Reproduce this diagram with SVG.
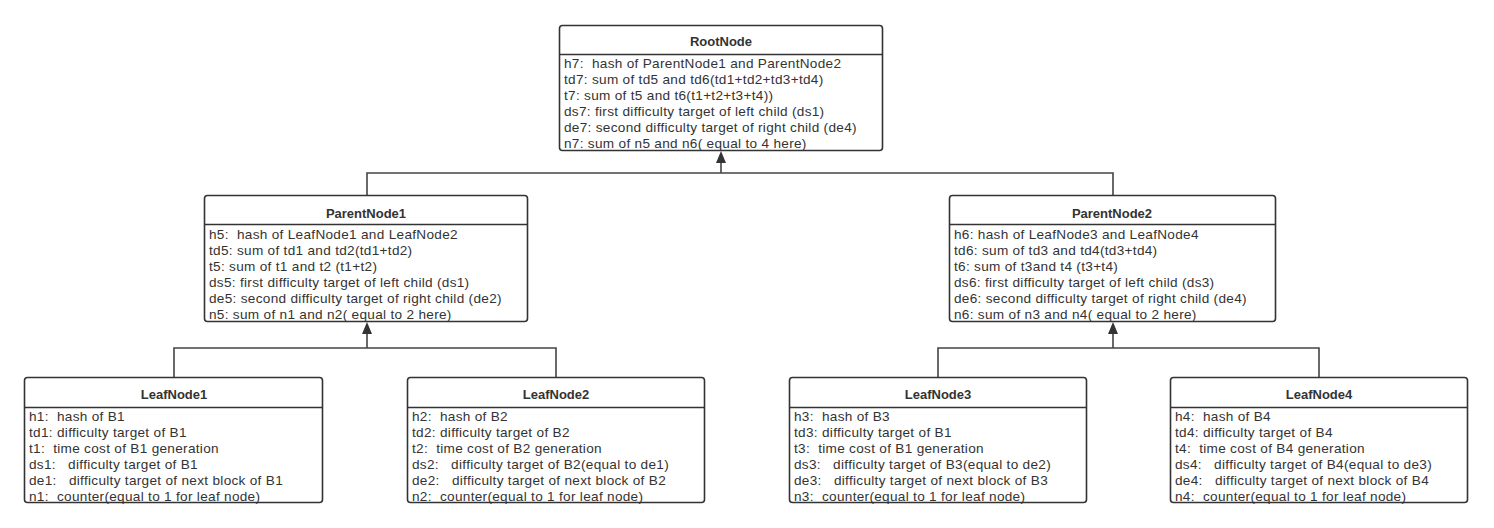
<svg xmlns="http://www.w3.org/2000/svg" width="1494" height="528" viewBox="0 0 1494 528" xml:space="preserve">
<style>
.box{fill:#fff;stroke:#333;stroke-width:1.6}
.div{stroke:#333;stroke-width:1.3}
.t{font-family:"Liberation Sans",Arial,sans-serif;font-size:13.6px;letter-spacing:0.3px;fill:#333;white-space:pre}
.h{font-family:"Liberation Sans",Arial,sans-serif;font-size:13px;font-weight:bold;fill:#333;text-anchor:middle}
.c{fill:none;stroke:#444;stroke-width:1.6}
</style>
<g id="connectors">
<path class="c" d="M367,195 V173 H1113 V195"/>
<path class="c" d="M721,173 V162"/>
<polygon points="721,151 716,163 726,163" fill="#333"/>
<path class="c" d="M174,377 V348 H556 V377"/>
<path class="c" d="M367,348 V334"/>
<polygon points="367,322 362,334 372,334" fill="#333"/>
<path class="c" d="M938,377 V348 H1319 V377"/>
<path class="c" d="M1113,348 V334"/>
<polygon points="1113,322 1108,334 1118,334" fill="#333"/>
</g>
<g id="RootNode">
<rect class="box" x="559.5" y="25.5" width="323" height="125" rx="3"/>
<line class="div" x1="560" y1="54.5" x2="882" y2="54.5"/>
<text class="h" x="721" y="46">RootNode</text>
<text class="t" x="564" y="67.5">h7:  hash of ParentNode1 and ParentNode2</text>
<text class="t" x="564" y="84">td7: sum of td5 and td6(td1+td2+td3+td4)</text>
<text class="t" x="564" y="100">t7: sum of t5 and t6(t1+t2+t3+t4))</text>
<text class="t" x="564" y="116">ds7: first difficulty target of left child (ds1)</text>
<text class="t" x="564" y="132">de7: second difficulty target of right child (de4)</text>
<text class="t" x="564" y="148">n7: sum of n5 and n6( equal to 4 here)</text>
</g>
<g id="ParentNode1">
<rect class="box" x="204.5" y="195.5" width="323" height="126" rx="3"/>
<line class="div" x1="205" y1="224.5" x2="527" y2="224.5"/>
<text class="h" x="366" y="217.5">ParentNode1</text>
<text class="t" x="209" y="239">h5:  hash of LeafNode1 and LeafNode2</text>
<text class="t" x="209" y="255">td5: sum of td1 and td2(td1+td2)</text>
<text class="t" x="209" y="271">t5: sum of t1 and t2 (t1+t2)</text>
<text class="t" x="209" y="287">ds5: first difficulty target of left child (ds1)</text>
<text class="t" x="209" y="303">de5: second difficulty target of right child (de2)</text>
<text class="t" x="209" y="319">n5: sum of n1 and n2( equal to 2 here)</text>
</g>
<g id="ParentNode2">
<rect class="box" x="949.5" y="195.5" width="326" height="126" rx="3"/>
<line class="div" x1="950" y1="224.5" x2="1275" y2="224.5"/>
<text class="h" x="1112" y="217.5">ParentNode2</text>
<text class="t" x="954" y="239">h6: hash of LeafNode3 and LeafNode4</text>
<text class="t" x="954" y="255">td6: sum of td3 and td4(td3+td4)</text>
<text class="t" x="954" y="271">t6: sum of t3and t4 (t3+t4)</text>
<text class="t" x="954" y="287">ds6: first difficulty target of left child (ds3)</text>
<text class="t" x="954" y="303">de6: second difficulty target of right child (de4)</text>
<text class="t" x="954" y="319">n6: sum of n3 and n4( equal to 2 here)</text>
</g>
<g id="LeafNode1">
<rect class="box" x="24.5" y="377.5" width="298" height="125" rx="3"/>
<line class="div" x1="25" y1="407.5" x2="322" y2="407.5"/>
<text class="h" x="174" y="398.5">LeafNode1</text>
<text class="t" x="29" y="421">h1:  hash of B1</text>
<text class="t" x="29" y="437">td1: difficulty target of B1</text>
<text class="t" x="29" y="453">t1:  time cost of B1 generation</text>
<text class="t" x="29" y="469">ds1:   difficulty target of B1</text>
<text class="t" x="29" y="485">de1:   difficulty target of next block of B1</text>
<text class="t" x="29" y="501">n1:  counter(equal to 1 for leaf node)</text>
</g>
<g id="LeafNode2">
<rect class="box" x="407.5" y="377.5" width="297" height="125" rx="3"/>
<line class="div" x1="408" y1="407.5" x2="704" y2="407.5"/>
<text class="h" x="556" y="398.5">LeafNode2</text>
<text class="t" x="412" y="421">h2:  hash of B2</text>
<text class="t" x="412" y="437">td2: difficulty target of B2</text>
<text class="t" x="412" y="453">t2:  time cost of B2 generation</text>
<text class="t" x="412" y="469">ds2:   difficulty target of B2(equal to de1)</text>
<text class="t" x="412" y="485">de2:   difficulty target of next block of B2</text>
<text class="t" x="412" y="501">n2:  counter(equal to 1 for leaf node)</text>
</g>
<g id="LeafNode3">
<rect class="box" x="789.5" y="377.5" width="297" height="125" rx="3"/>
<line class="div" x1="790" y1="407.5" x2="1086" y2="407.5"/>
<text class="h" x="938" y="398.5">LeafNode3</text>
<text class="t" x="794" y="421">h3:  hash of B3</text>
<text class="t" x="794" y="437">td3: difficulty target of B1</text>
<text class="t" x="794" y="453">t3:  time cost of B1 generation</text>
<text class="t" x="794" y="469">ds3:   difficulty target of B3(equal to de2)</text>
<text class="t" x="794" y="485">de3:   difficulty target of next block of B3</text>
<text class="t" x="794" y="501">n3:  counter(equal to 1 for leaf node)</text>
</g>
<g id="LeafNode4">
<rect class="box" x="1170.5" y="377.5" width="297" height="125" rx="3"/>
<line class="div" x1="1171" y1="407.5" x2="1467" y2="407.5"/>
<text class="h" x="1319" y="398.5">LeafNode4</text>
<text class="t" x="1175" y="421">h4:  hash of B4</text>
<text class="t" x="1175" y="437">td4: difficulty target of B4</text>
<text class="t" x="1175" y="453">t4:  time cost of B4 generation</text>
<text class="t" x="1175" y="469">ds4:   difficulty target of B4(equal to de3)</text>
<text class="t" x="1175" y="485">de4:   difficulty target of next block of B4</text>
<text class="t" x="1175" y="501">n4:  counter(equal to 1 for leaf node)</text>
</g>
</svg>
